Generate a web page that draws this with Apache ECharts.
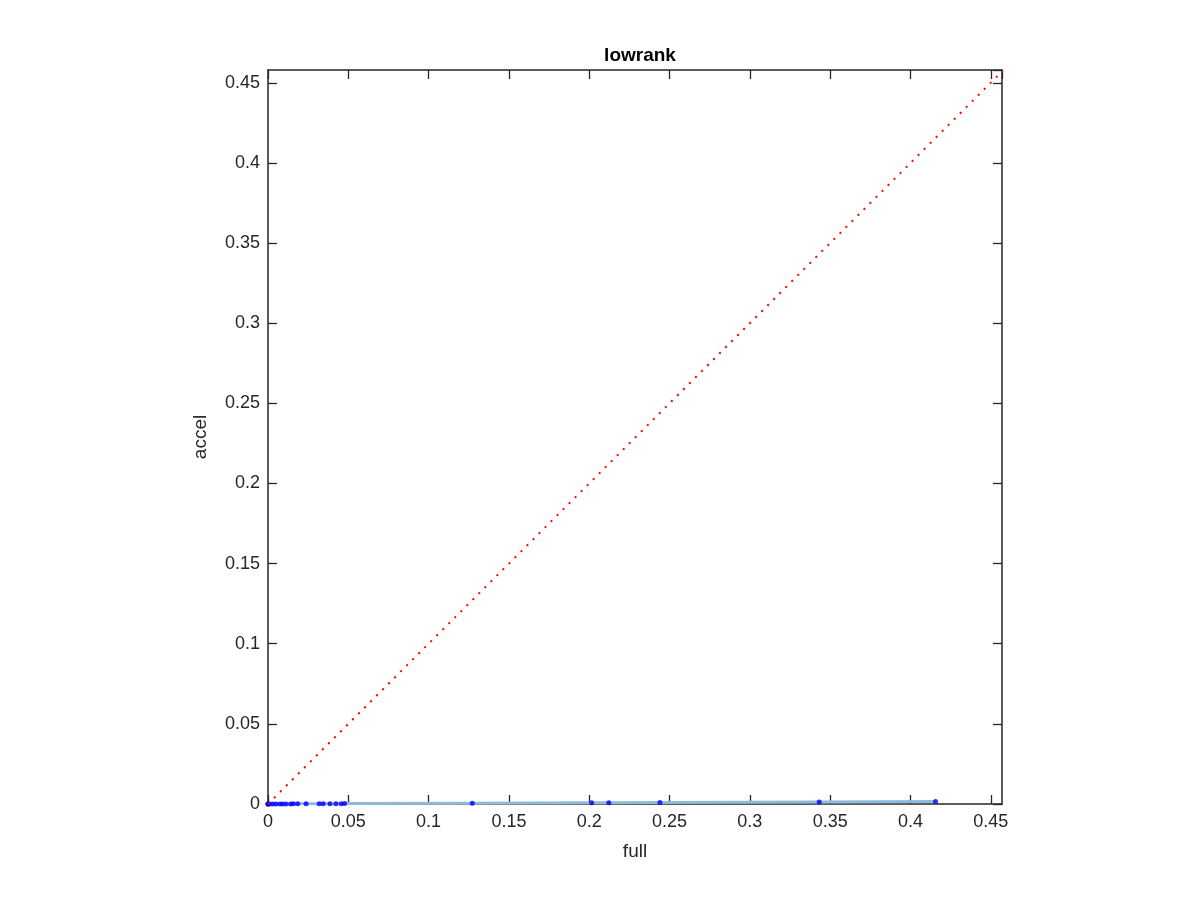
<!DOCTYPE html>
<html><head><meta charset="utf-8">
<script src="https://cdn.jsdelivr.net/npm/echarts@6/dist/echarts.min.js"></script>
<style>html,body{margin:0;padding:0;background:#fff}#c{width:1200px;height:900px}</style>
</head><body><div id="c"></div>
<script>
const titleText = 'lowrank';
const xName = 'full';
const yName = 'accel';
const fullVals = [0, 0, 0, 0.0008, 0.0029, 0.005, 0.0075, 0.0091, 0.0112, 0.0141, 0.0158, 0.0185, 0.0237, 0.0319, 0.0344, 0.0386, 0.0423, 0.0456, 0.0477, 0.1272, 0.2015, 0.2122, 0.244, 0.3432, 0.4156];
const accelVals = [0, 0, 0, 0.00001, 0.00002, 0.00003, 0.00004, 0.00005, 0.00006, 0.00007, 0.00008, 0.0001, 0.00012, 0.00016, 0.00017, 0.00019, 0.00021, 0.00023, 0.00024, 0.0005, 0.0008, 0.00085, 0.001, 0.0013, 0.0016];
const diagX = [0, 0.458];
const xMax = 0.457, yMax = 0.458, step = 0.05;

const pts = fullVals.map((v, i) => [v, accelVals[i]]);
const diag = diagX.map(v => [v, v]);
const font = 'Liberation Sans, Arial, Helvetica, sans-serif';
const axCol = '#262626';
function axis(pos, max, show, name) {
  return {
    type: 'value', position: pos, min: 0, max: max, interval: step,
    name: name || '', nameLocation: 'middle',
    nameGap: pos === 'left' ? 58 : 38,
    nameTextStyle: {fontFamily: font, fontSize: 19, color: axCol},
    axisLine: {show: true, onZero: false, lineStyle: {color: axCol, width: 1.5}},
    axisTick: {show: true, inside: true, length: 9, lineStyle: {color: axCol, width: 1.3}},
    axisLabel: {show: show, showMaxLabel: false, fontFamily: font, fontSize: 18, color: axCol,
      margin: pos === 'left' ? 8 : 9,
      formatter: v => (Math.round(v * 1000) / 1000).toString()},
    splitLine: {show: false}
  };
}
const chart = echarts.init(document.getElementById('c'), null, {renderer: 'canvas'});
chart.setOption({
  animation: false,
  backgroundColor: '#fff',
  title: {text: titleText, left: 635, top: 41, textAlign: 'center',
    textStyle: {fontFamily: font, fontSize: 19, fontWeight: 'bold', color: '#000'}},
  grid: {left: 268, right: 198, top: 70, bottom: 96},
  xAxis: [axis('bottom', xMax, true, xName), axis('top', xMax, false)],
  yAxis: [axis('left', yMax, true, yName), axis('right', yMax, false)],
  series: [
    {type: 'line', data: pts, xAxisIndex: 0, yAxisIndex: 0, showSymbol: false, symbol: 'none',
      lineStyle: {color: '#8dbbdc', width: 3}, z: 2},
    {type: 'scatter', data: pts, xAxisIndex: 0, yAxisIndex: 0, symbol: 'circle', symbolSize: 5,
      itemStyle: {color: '#0000ff'}, z: 3},
    {type: 'line', data: diag, xAxisIndex: 0, yAxisIndex: 0, showSymbol: false, symbol: 'none',
      lineStyle: {color: '#ff0000', width: 2, type: [2, 6.5]}, z: 4}
  ]
});
</script></body></html>
